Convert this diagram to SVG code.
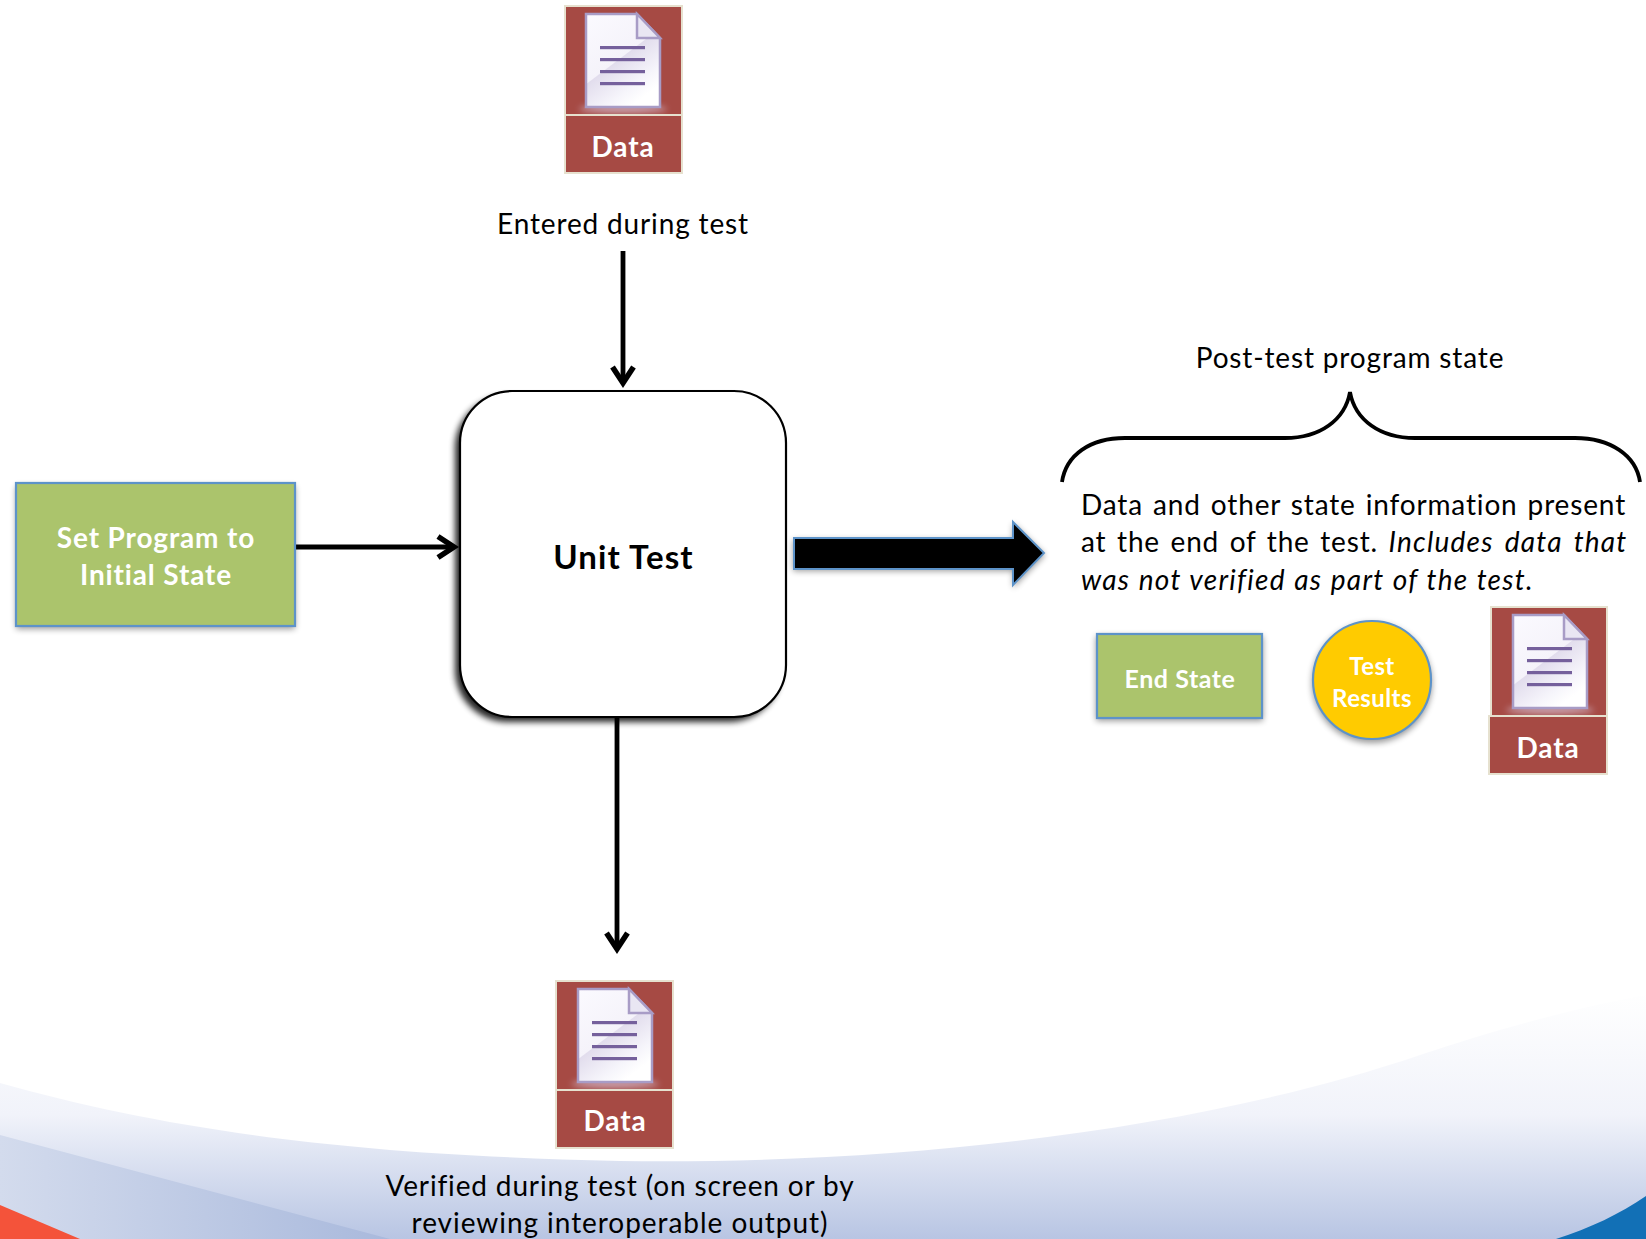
<svg xmlns="http://www.w3.org/2000/svg" xmlns:xlink="http://www.w3.org/1999/xlink" width="1646" height="1239" viewBox="0 0 1646 1239">
<style>
text{font-family:"Lato","Carlito","Liberation Sans",sans-serif;fill:#000;letter-spacing:.85px}
.lbl{font-size:28px;text-anchor:middle}
.w{fill:#fff;font-weight:700;text-anchor:middle}
.para{font-size:28px}
.conn{fill:none;stroke:#000;stroke-width:4.8}
.dbox{fill:#a64a44;stroke:#e6e1cf;stroke-width:2}
.green{fill:#abc46c;stroke:#5d93c9;stroke-width:2.2}
</style>
<defs>
<linearGradient id="bg" x1="0" y1="990" x2="0" y2="1239" gradientUnits="userSpaceOnUse"><stop offset="0" stop-color="#fff"/><stop offset=".5" stop-color="#f1f3fa"/><stop offset="1" stop-color="#b8c5e3"/></linearGradient>
<linearGradient id="wedge" x1="0" y1="0" x2="390" y2="0" gradientUnits="userSpaceOnUse"><stop offset="0" stop-color="#d3dbed"/><stop offset="1" stop-color="#a9b9dc"/></linearGradient>
<linearGradient id="sheet" x1="0" y1="0" x2="0.6" y2="1"><stop offset="0" stop-color="#fbfaff"/><stop offset=".55" stop-color="#f5f3fa"/><stop offset=".56" stop-color="#e2dded"/><stop offset=".85" stop-color="#f6f5fb"/><stop offset="1" stop-color="#fff"/></linearGradient>
<filter id="sh" x="-20%" y="-20%" width="140%" height="140%"><feGaussianBlur stdDeviation="3"/></filter>
<filter id="glow" x="-30%" y="-200%" width="160%" height="500%"><feGaussianBlur stdDeviation="3"/></filter>
<marker id="open" markerUnits="userSpaceOnUse" markerWidth="34" markerHeight="34" refX="22" refY="17" orient="auto"><path d="M6 6.500L22 17L6 27.500" fill="none" stroke="#000" stroke-width="5.500"/></marker>
<g id="doc">
<ellipse cx="37" cy="95" rx="44" ry="4" fill="#d9cbe0" opacity=".7" filter="url(#glow)"/>
<path d="M0 0H51L74 24V93H0Z" fill="url(#sheet)" stroke="#a89cc6" stroke-width="2.500"/>
<path d="M51 0V24H74Z" fill="#e9e6f3" stroke="#a89cc6" stroke-width="2.500"/>
<g fill="#75609c"><rect x="14" y="32" width="45" height="3.200"/><rect x="14" y="44" width="45" height="3.200"/><rect x="14" y="56" width="45" height="3.200"/><rect x="14" y="68" width="45" height="3.200"/></g>
</g>
</defs>
<rect width="1646" height="1239" fill="#fff"/>
<g id="background">
<path d="M0 1083C160 1128 340 1155 620 1161C900 1165 1200 1130 1420 1055C1510 1025 1590 1005 1646 995V1239H0Z" fill="url(#bg)"/>
<path d="M0 1135L390 1239H0Z" fill="url(#wedge)"/>
<path d="M0 1205L80 1239H0Z" fill="#f4533a"/>
<path d="M1556 1239C1590 1228 1620 1214 1646 1196V1239Z" fill="#1270b6"/>
</g>
<g id="connectors">
<path class="conn" d="M623 251V383" marker-end="url(#open)"/>
<path class="conn" d="M295 547H454" marker-end="url(#open)"/>
<path class="conn" d="M617 718V949" marker-end="url(#open)"/>
<g id="big-arrow">
<path d="M793 540H1013V523L1045 555L1013 588V571H793Z" fill="#000" opacity=".4" filter="url(#sh)"/>
<path d="M794 538H1013V522L1044 553L1013 585V569H794Z" fill="#000" stroke="#5d93c9" stroke-width="2"/>
</g>
</g>
<g id="unit-test">
<rect x="455" y="396" width="326" height="326" rx="52" fill="#000" opacity=".85" filter="url(#sh)"/>
<rect x="460" y="391" width="326" height="326" rx="52" fill="#fff" stroke="#000" stroke-width="2.200"/>
<text x="623.500" y="569" font-size="33" font-weight="700" text-anchor="middle" style="letter-spacing:1.100px">Unit Test</text>
</g>
<g id="set-program">
<rect x="16" y="486" width="279" height="143" fill="#000" opacity=".4" filter="url(#sh)"/>
<rect class="green" x="16" y="483" width="279" height="143"/>
<text class="w" font-size="28" x="156" y="548">Set Program to</text>
<text class="w" font-size="28" x="156" y="585">Initial State</text>
</g>
<g id="data-top">
<rect class="dbox" x="565" y="6" width="117" height="109"/>
<use xlink:href="#doc" x="586" y="14"/>
<rect class="dbox" x="565" y="115" width="117" height="58"/>
<text class="w" font-size="28" x="623" y="157">Data</text>
</g>
<text class="lbl" x="623" y="234">Entered during test</text>
<g id="data-bottom">
<rect class="dbox" x="556" y="981" width="117" height="109"/>
<use xlink:href="#doc" x="578" y="989"/>
<rect class="dbox" x="556" y="1090" width="117" height="58"/>
<text class="w" font-size="28" x="615" y="1131">Data</text>
</g>
<text class="lbl" x="620" y="1196">Verified during test (on screen or by</text>
<text class="lbl" x="620" y="1233" style="letter-spacing:.95px">reviewing interoperable output)</text>
<g id="post-test">
<text class="lbl" x="1350" y="368">Post-test program state</text>
<path d="M1062 482C1066 455 1090 438 1125 438H1285C1320 438 1345 420 1350 392C1355 420 1380 438 1415 438H1575C1610 438 1636 455 1640 482" fill="none" stroke="#000" stroke-width="3.800"/>
</g>
<g id="description">
<text class="para" x="1081" y="515" word-spacing="2">Data and other state information present</text>
<text class="para" x="1081" y="552" word-spacing="2.500">at the end of the test. <tspan font-style="italic" style="letter-spacing:1.200px" word-spacing="3.500">Includes data that</tspan></text>
<text class="para" x="1081" y="590" font-style="italic" word-spacing=".5" style="letter-spacing:1.300px">was not verified as part of the test.</text>
</g>
<g id="end-state">
<rect x="1096" y="636" width="167" height="85" fill="#000" opacity=".4" filter="url(#sh)"/>
<rect class="green" x="1097" y="634" width="165" height="84"/>
<text class="w" font-size="25" x="1180" y="688" style="letter-spacing:.55px">End State</text>
</g>
<g id="test-results">
<circle cx="1372" cy="683" r="60" fill="#000" opacity=".4" filter="url(#sh)"/>
<circle cx="1372" cy="680" r="59" fill="#ffcb00" stroke="#5d93c9" stroke-width="2.200"/>
<text class="w" font-size="24" x="1372" y="675" style="letter-spacing:.4px">Test</text>
<text class="w" font-size="24" x="1372" y="707" style="letter-spacing:.4px">Results</text>
</g>
<g id="data-right">
<rect class="dbox" x="1491" y="607" width="116" height="109"/>
<use xlink:href="#doc" x="1513" y="615"/>
<rect class="dbox" x="1489" y="716" width="118" height="58"/>
<text class="w" font-size="28" x="1548" y="758">Data</text>
</g>
</svg>
